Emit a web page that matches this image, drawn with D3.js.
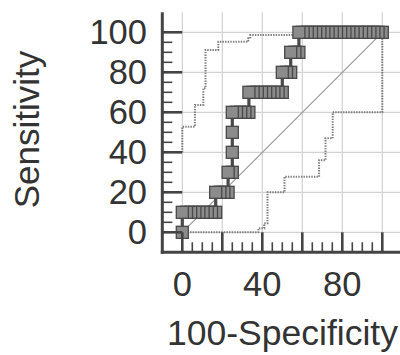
<!DOCTYPE html>
<html>
<head>
<meta charset="utf-8">
<script src="https://cdn.jsdelivr.net/npm/d3@7"></script>
<style>
  html, body { margin: 0; padding: 0; background: #fff; }
  svg { display: block; }
  text { font-family: "Liberation Sans", Arial, sans-serif; fill: #333; }
</style>
</head>
<body>
<svg id="chart" width="400" height="355"></svg>
<script>
// ---- data ----
const rocX = [0,
  0, 2.1, 4.2, 6.3, 8.3, 10.4, 12.5, 14.6, 16.7,
  16.7, 18.8, 20.8, 22.9,
  22.9, 25,
  25,
  25,
  25, 27.1, 29.2, 31.3, 33.3,
  33.3, 35.4, 37.5, 39.6, 41.7, 43.8, 45.8, 47.9, 50,
  50, 52.1, 54.2,
  54.2, 56.3, 58.3,
  58.3, 60.4, 62.5, 64.6, 66.7, 68.8, 70.8, 72.9, 75, 77.1, 79.2, 81.3, 83.3, 85.4, 87.5, 89.6, 91.7, 93.8, 95.8, 97.9, 100];
const rocY = [0,
  10, 10, 10, 10, 10, 10, 10, 10, 10,
  20, 20, 20, 20,
  30, 30,
  40,
  50,
  60, 60, 60, 60, 60,
  70, 70, 70, 70, 70, 70, 70, 70, 70,
  80, 80, 80,
  90, 90, 90,
  100, 100, 100, 100, 100, 100, 100, 100, 100, 100, 100, 100, 100, 100, 100, 100, 100, 100, 100, 100, 100];
const upperX = [0, 0, 6.3, 6.3, 10.5, 10.5, 11.6, 11.6, 18, 18, 33, 33, 34, 34, 58, 58, 100];
const upperY = [40, 52.8, 52.8, 63.7, 63.7, 72, 72, 91.2, 91.2, 95.3, 95.3, 97, 97, 98.6, 98.6, 100, 100];
const lowerX = [0, 38, 38, 41, 41, 42.6, 42.6, 51.1, 51.1, 68.4, 68.4, 71.6, 71.6, 75.2, 75.2, 100, 100];
const lowerY = [0, 0, 2, 2, 4.5, 4.5, 20, 20, 27.8, 27.8, 36, 36, 47, 47, 60, 60, 100];
const diagX = [0, 100];
const diagY = [0, 100];
const xTickValues = [0, 40, 80];
const xTickLabels = ["0", "40", "80"];
const yTickValues = [0, 20, 40, 60, 80, 100];
const yTickLabels = ["0", "20", "40", "60", "80", "100"];
const gridValues = [0, 20, 40, 60, 80, 100];
const minorValues = [5, 10, 15, 25, 30, 35, 45, 50, 55, 65, 70, 75, 85, 90, 95];
const xTitle = "100-Specificity";
const yTitle = "Sensitivity";

// ---- layout ----
const svg = d3.select("#chart");
const x = d3.scaleLinear().domain([-10, 110]).range([162.3, 402.3]);
const y = d3.scaleLinear().domain([-10, 110]).range([252.3, 12.3]);

// grid
const g = svg.append("g");
g.selectAll("line.vg").data(gridValues).join("line")
  .attr("x1", d => x(d)).attr("x2", d => x(d))
  .attr("y1", y(110)).attr("y2", y(-10))
  .attr("stroke", "#d2d2d2").attr("stroke-width", 1.2);
g.selectAll("line.hg").data(gridValues).join("line")
  .attr("class", "hg")
  .attr("x1", x(-10)).attr("x2", x(110))
  .attr("y1", d => y(d)).attr("y2", d => y(d))
  .attr("stroke", "#d2d2d2").attr("stroke-width", 1.2);

// diagonal
const line = d3.line().x(d => x(d[0])).y(d => y(d[1]));
svg.append("path").datum(diagX.map((v, i) => [v, diagY[i]]))
  .attr("d", line).attr("fill", "none").attr("stroke", "#9a9a9a").attr("stroke-width", 1.2);

// confidence bands
[[upperX, upperY], [lowerX, lowerY]].forEach(([xs, ys]) => {
  svg.append("path").datum(xs.map((v, i) => [v, ys[i]]))
    .attr("d", line).attr("fill", "none")
    .attr("stroke", "#7d7d7d").attr("stroke-width", 2)
    .attr("stroke-dasharray", "1.4,1.2");
});

// ROC line
const roc = rocX.map((v, i) => [v, rocY[i]]);
svg.append("path").datum(roc).attr("d", line)
  .attr("fill", "none").attr("stroke", "#4a4a4a").attr("stroke-width", 3.2);

// squares (drawn from last to first so leftmost appear on top)
const sz = 12;
svg.append("g").selectAll("rect").data(roc.slice().reverse()).join("rect")
  .attr("x", d => x(d[0]) - sz / 2).attr("y", d => y(d[1]) - sz / 2)
  .attr("width", sz).attr("height", sz)
  .attr("fill", "#8c8c8c").attr("stroke", "#484848").attr("stroke-width", 1.3);

// axes
const axisColor = "#444";
const ax = svg.append("g");
ax.append("line").attr("x1", x(-10)).attr("x2", x(-10)).attr("y1", y(110)).attr("y2", y(-10) + 1.5)
  .attr("stroke", axisColor).attr("stroke-width", 3);
ax.append("line").attr("x1", x(-10) - 1.5).attr("x2", x(110)).attr("y1", y(-10)).attr("y2", y(-10))
  .attr("stroke", axisColor).attr("stroke-width", 3);
// y ticks
ax.selectAll("line.ymaj").data(gridValues).join("line").attr("class", "ymaj")
  .attr("x1", x(-10)).attr("x2", x(0)).attr("y1", d => y(d)).attr("y2", d => y(d))
  .attr("stroke", axisColor).attr("stroke-width", 2.6);
ax.selectAll("line.ymin").data(minorValues).join("line").attr("class", "ymin")
  .attr("x1", x(-10)).attr("x2", x(-5)).attr("y1", d => y(d)).attr("y2", d => y(d))
  .attr("stroke", axisColor).attr("stroke-width", 1.6);
// x ticks
ax.selectAll("line.xmaj").data(gridValues).join("line").attr("class", "xmaj")
  .attr("y1", y(-10)).attr("y2", y(0)).attr("x1", d => x(d)).attr("x2", d => x(d))
  .attr("stroke", axisColor).attr("stroke-width", 2.6);
ax.selectAll("line.xmin").data(minorValues).join("line").attr("class", "xmin")
  .attr("y1", y(-10)).attr("y2", y(-5)).attr("x1", d => x(d)).attr("x2", d => x(d))
  .attr("stroke", axisColor).attr("stroke-width", 1.6);

// tick labels
svg.append("g").selectAll("text").data(yTickValues).join("text")
  .attr("x", 147).attr("y", d => y(d)).attr("dy", "0.34em")
  .attr("text-anchor", "end").attr("font-size", 34.5)
  .text((d, i) => yTickLabels[i]);
svg.append("g").selectAll("text").data(xTickValues).join("text")
  .attr("x", d => x(d)).attr("y", 295.5)
  .attr("text-anchor", "middle").attr("font-size", 34.5)
  .text((d, i) => xTickLabels[i]);

// titles
svg.append("text").attr("x", 282.5).attr("y", 344.5)
  .attr("text-anchor", "middle").attr("font-size", 35.5).text(xTitle);
svg.append("text").attr("transform", "translate(38.5,129.5) rotate(-90)")
  .attr("text-anchor", "middle").attr("font-size", 35).text(yTitle);
</script>
</body>
</html>
